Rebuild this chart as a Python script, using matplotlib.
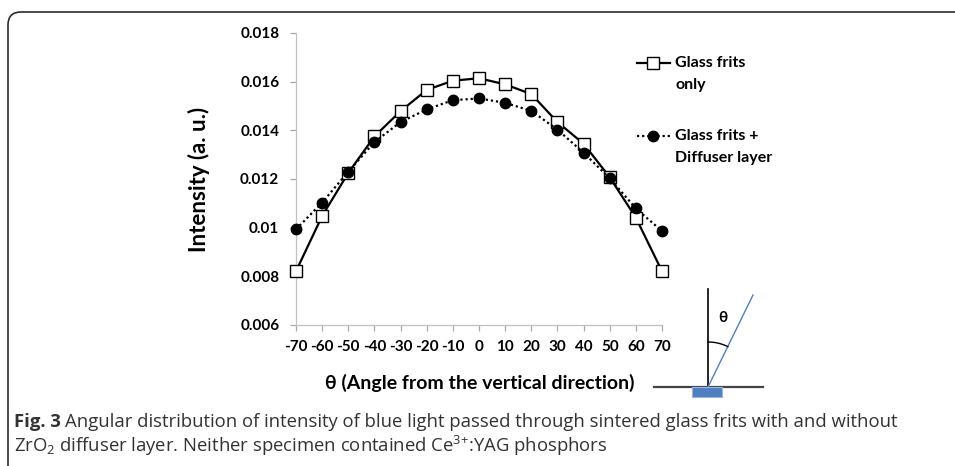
import numpy as np
import matplotlib
matplotlib.use("Agg")
import matplotlib.pyplot as plt
from matplotlib.patches import FancyBboxPatch, Rectangle

# data
angles = [-70, -60, -50, -40, -30, -20, -10, 0, 10, 20, 30, 40, 50, 60, 70]
frits_only = [0.00821, 0.01048, 0.01225, 0.01375, 0.01479, 0.01566, 0.01604,
              0.01614, 0.01589, 0.01549, 0.01434, 0.01345, 0.01207, 0.01041, 0.00821]
frits_diffuser = [0.00993, 0.01103, 0.01230, 0.01352, 0.01434, 0.01486, 0.01524,
                  0.01531, 0.01513, 0.01480, 0.01403, 0.01308, 0.01203, 0.01079, 0.00986]
yticks = [0.006, 0.008, 0.01, 0.012, 0.014, 0.016, 0.018]
ytick_labels = ["0.006", "0.008", "0.01", "0.012", "0.014", "0.016", "0.018"]

cap_font = "Open Sans"
chart_font = ["Lato", "DejaVu Sans"]

plt.rcParams["mathtext.fontset"] = "custom"
plt.rcParams["mathtext.rm"] = cap_font
plt.rcParams["mathtext.bf"] = cap_font + ":bold"

W, H = 955, 466
fig = plt.figure(figsize=(W / 100, H / 100), dpi=100)

# main chart
ax = fig.add_axes([296 / W, 1 - 325 / H, 366 / W, 292 / H])
ax.patch.set_alpha(0)
ax.plot(angles, frits_only, color="black", lw=1.6, marker="s", ms=8.5,
        mfc="white", mec="black", mew=1.0, clip_on=False, zorder=3)
ax.plot(angles, frits_diffuser, color="black", lw=1.6, ls=(0, (1, 1.3)),
        marker="o", ms=7.5, mfc="black", mec="black", clip_on=False, zorder=4)

ax.set_xlim(-70, 70)
ax.set_ylim(0.006, 0.018)
ax.set_xticks(angles)
ax.set_xticklabels([str(a) for a in angles])
ax.set_yticks(yticks)
ax.set_yticklabels(ytick_labels)
for s in ["top", "right"]:
    ax.spines[s].set_visible(False)
for s in ["left", "bottom"]:
    ax.spines[s].set_color("#c0c0c0")
    ax.spines[s].set_linewidth(0.9)
ax.tick_params(axis="both", direction="out", length=4, width=0.9, color="#a8a8a8",
               labelsize=11, pad=7)
ax.tick_params(axis="y", pad=8)
for lab in ax.get_xticklabels() + ax.get_yticklabels():
    lab.set_fontfamily(chart_font)
    lab.set_fontweight("bold")

ax.set_ylabel("Intensity (a. u.)", fontsize=16, fontweight="bold", family=chart_font)
ax.yaxis.set_label_coords((210 - 296) / 366, 0.5)
ax.set_xlabel("θ (Angle from the vertical direction)", fontsize=14,
              fontweight="bold", family=chart_font, va="center")
ax.xaxis.set_label_coords((480 - 296) / 366, (325 - 383) / 292)

# overlay in pixel coordinates for frame, legend, sketch and caption
ov = fig.add_axes([0, 0, 1, 1], zorder=-1)
ov.set_xlim(0, W)
ov.set_ylim(H, 0)
ov.axis("off")

frame = FancyBboxPatch((8, 12), 1100, 600, boxstyle="round,pad=0,rounding_size=13",
                       fc="none", ec="#2b2b2b", lw=1.2)
ov.add_patch(frame)

# legend
leg_kw = dict(fontsize=11.5, fontweight="bold", family=chart_font, va="center")
ov.plot([637, 670], [63, 63], color="black", lw=1.6)
ov.plot([653], [63], marker="s", ms=8.5, mfc="white", mec="black", mew=1.0)
ov.text(675, 63, "Glass frits", **leg_kw)
ov.text(675, 85, "only", **leg_kw)
ov.plot([637, 670], [136, 136], color="black", lw=1.6, ls=(0, (1, 1.3)))
ov.plot([653], [136], marker="o", ms=7.5, mfc="black", mec="black")
ov.text(675, 136, "Glass frits +", **leg_kw)
ov.text(675, 158, "Diffuser layer", **leg_kw)

# angle sketch
ov.plot([708, 708], [289, 387], color="black", lw=1.2)
ov.plot([654, 763], [387, 387], color="#444444", lw=1.6)
ov.add_patch(Rectangle((692, 387), 30, 10, fc="#4f7fc0", ec="#9cb6dc", lw=0.8, zorder=3))
ov.plot([708, 753], [387, 295], color="#4f7fc0", lw=1.0)
t = np.linspace(np.deg2rad(270), np.arctan2(-92, 45) + 2 * np.pi, 30)
ov.plot(708 + 45 * np.cos(t), 387 + 45 * np.sin(t), color="black", lw=1.0)
ov.text(723, 318, "θ", fontsize=11, fontweight="bold", family=chart_font, ha="center", va="center")

# caption
cap_kw = dict(fontsize=13.3, family=cap_font, color="#333333", va="center")
fig_lab = ov.text(14, 422, "Fig. 3", fontweight="bold", **cap_kw)
fig.canvas.draw()
bb = fig_lab.get_window_extent()
ov.text(bb.x1 + 4, 422, "Angular distribution of intensity of blue light passed "
        "through sintered glass frits with and without", **cap_kw)
ov.text(14, 446, r"ZrO$_2$ diffuser layer. Neither specimen contained Ce$^{3{+}}$:YAG phosphors",
        **cap_kw)

fig.savefig("out.png", dpi=100)
